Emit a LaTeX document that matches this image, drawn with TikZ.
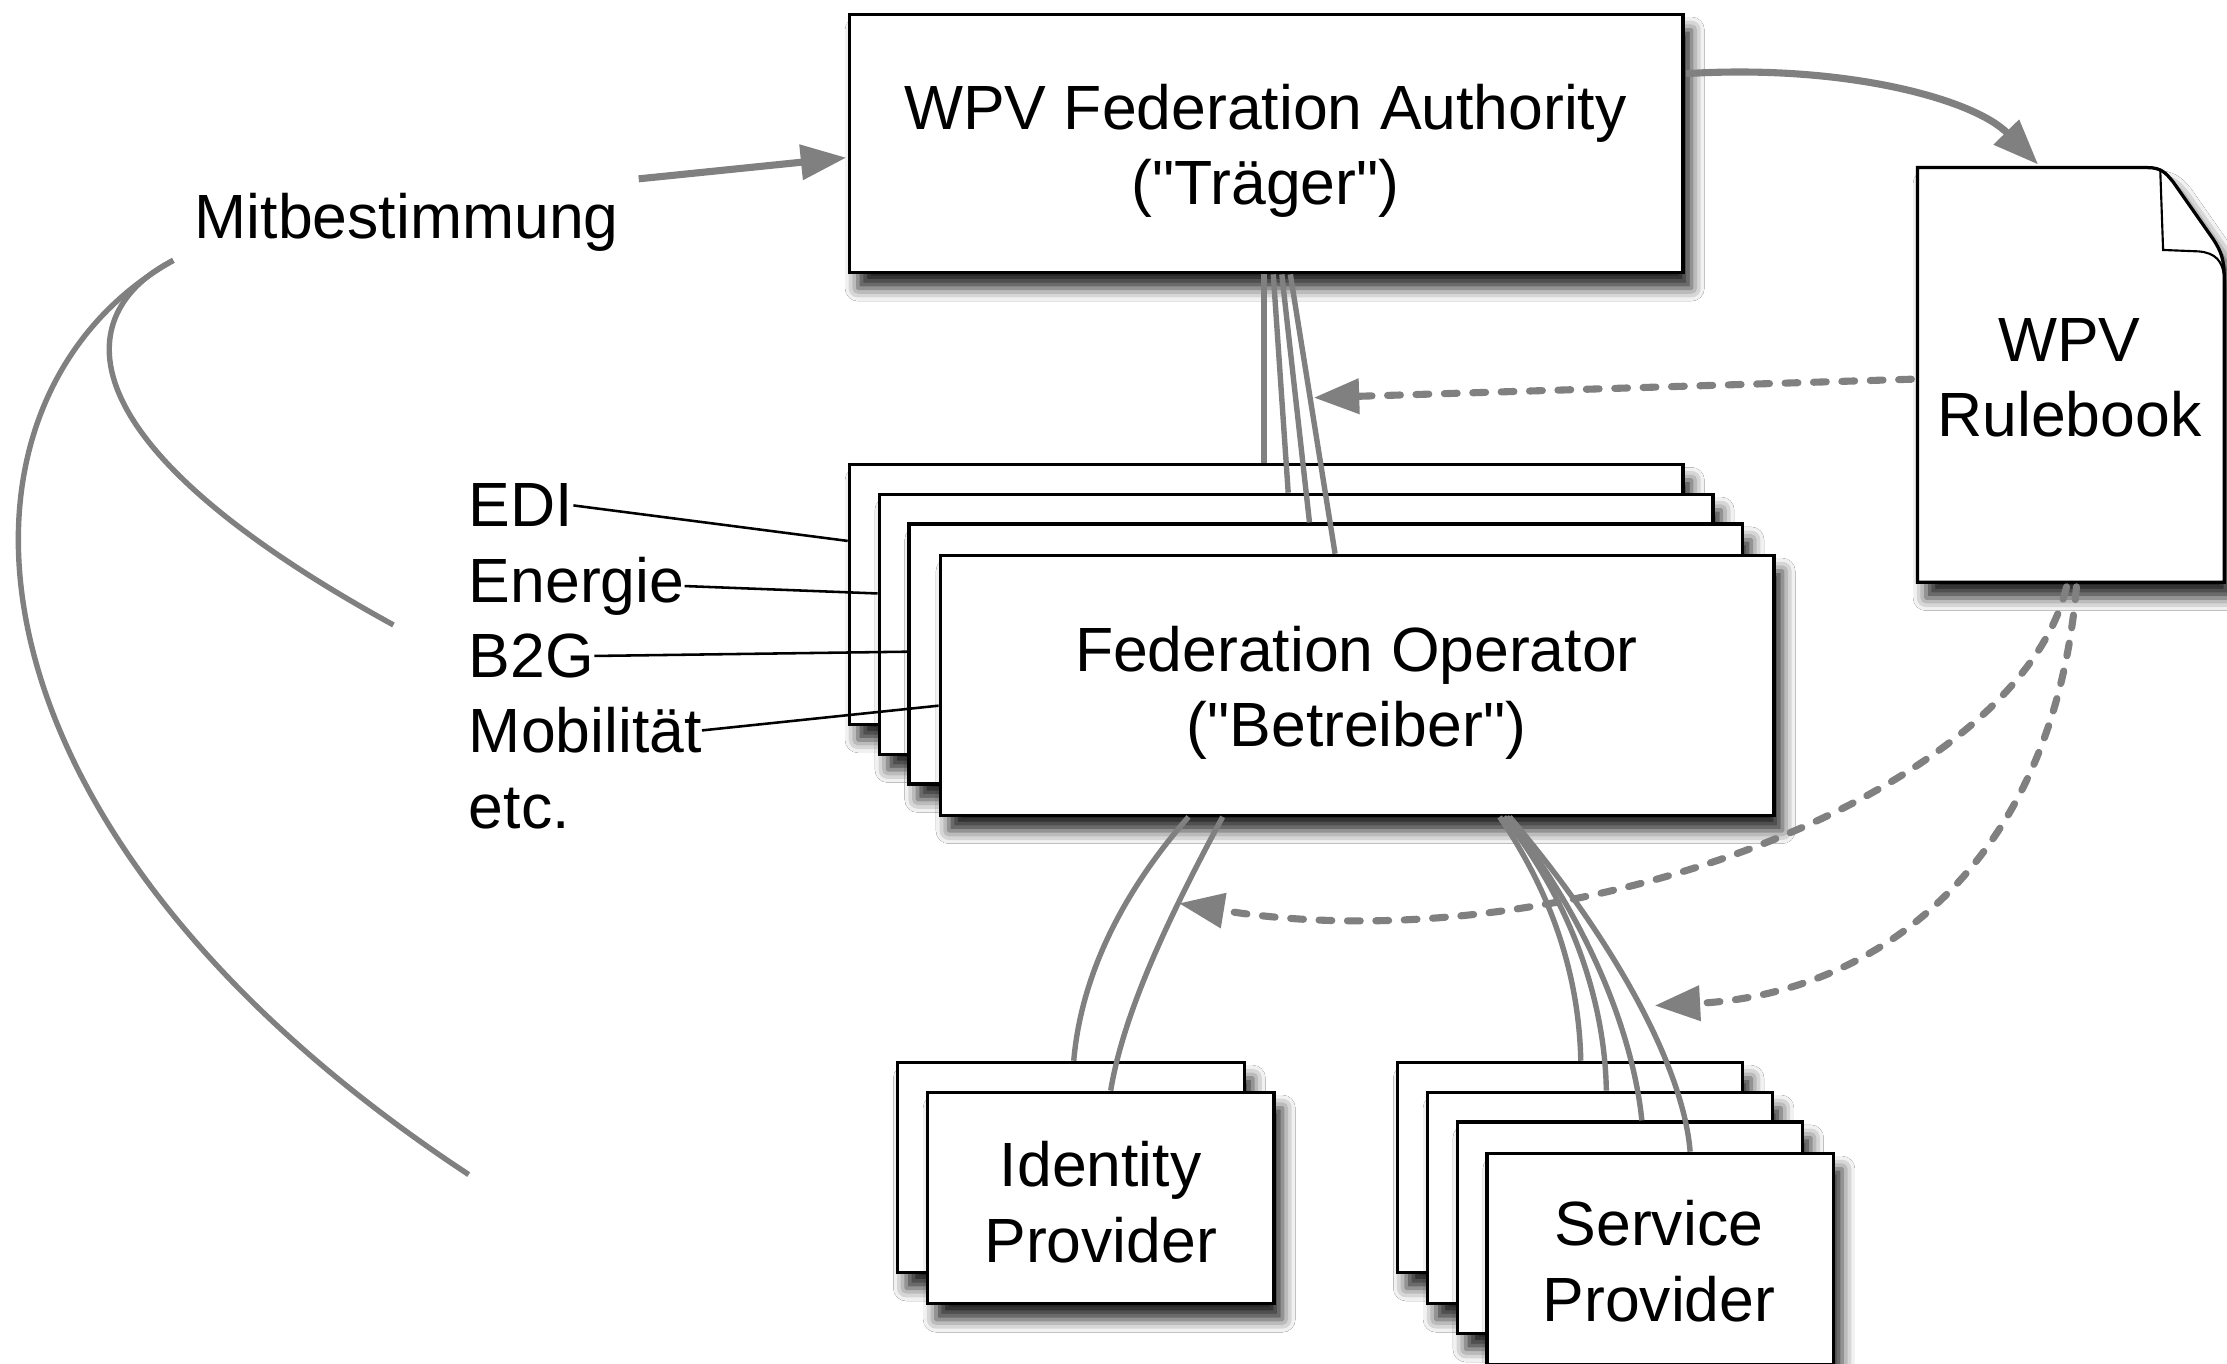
\documentclass[tikz,border=0pt]{standalone}
\usepackage{fontspec}
\setmainfont{Liberation Sans}[Ligatures=TeXOff]
\usetikzlibrary{arrows.meta,shadows.blur,calc}
\definecolor{connc}{gray}{0.5}
\begin{document}
\begin{tikzpicture}[x=1pt,y=-1pt,
  txt/.style={font=\fontsize{44}{53}\selectfont},
  shad/.style={blur shadow={shadow xshift=6pt, shadow yshift=-11pt, shadow blur radius=9pt, shadow opacity=85}},
  box/.style={draw=black, line width=2.3pt, fill=white, rectangle, inner sep=0pt, shad},
  btxt/.style={inner sep=0pt, align=center, txt},
  lbl/.style={inner sep=0pt, txt, anchor=base west},
  conn/.style={draw=connc, line width=3.8pt},
  thick conn/.style={draw=connc, line width=5pt},
  dconn/.style={draw=connc, line width=5pt, line cap=round, dash pattern=on 9pt off 11pt},
  tip/.style={-{Triangle[length=32pt,width=24pt]}},
  lead/.style={draw=black, line width=1.8pt}
]
\useasboundingbox (0,0) rectangle (1568,960);
\fill[white] (0,0) rectangle (1568,960);

% Authority
\node[box, minimum width=587pt, minimum height=182pt] (auth) at (891.5,101) {};
\node[btxt] (authT) at (891,106) {WPV Federation Authority\\("Träger")};

% Rulebook document
\path[draw=black, line width=2.3pt, fill=white, shad] (1350,118) -- (1512,118) .. controls (1522,118) and (1525,122) .. (1530,128) -- (1558,168) .. controls (1564,177) and (1566,183) .. (1566,195) -- (1566,410) -- (1350,410) -- cycle;
\draw[black, line width=1.5pt] (1521,120) -- (1523,176) -- (1548,177) .. controls (1560,178) and (1565,184) .. (1566,195);
\node[inner sep=0pt, minimum width=216pt, minimum height=292pt] (rule) at (1458,264) {};
\node[btxt] (ruleT) at (1457,266) {WPV\\Rulebook};

% Operator stack
\node[box, minimum width=587pt, minimum height=183pt] (op1) at (891.5,418.5) {};
\node[box, minimum width=587pt, minimum height=183pt] (op2) at (912.5,439.5) {};
\node[box, minimum width=587pt, minimum height=183pt] (op3) at (933.5,460.5) {};
\node[box, minimum width=587pt, minimum height=183pt] (op4) at (955.5,482.5) {};
\node[btxt] (opT) at (955,488) {Federation Operator\\("Betreiber")};

% Identity Provider stack
\node[box, minimum width=244pt, minimum height=148pt] (idp1) at (754,822) {};
\node[box, minimum width=244pt, minimum height=149pt] (idp2) at (775,843.5) {};
\node[btxt] (idpT) at (775,846.5) {Identity\\Provider};

% Service Provider stack
\node[box, minimum width=243pt, minimum height=148pt] (sp1) at (1105.5,822) {};
\node[box, minimum width=243pt, minimum height=149pt] (sp2) at (1126.5,843.5) {};
\node[box, minimum width=243pt, minimum height=149pt] (sp3) at (1147.5,864.5) {};
\node[box, minimum width=244pt, minimum height=149pt] (sp4) at (1169,886.5) {};
\node[btxt] (spT) at (1168,888) {Service\\Provider};

% Labels
\node[lbl] (mit) at (137,168) {Mitbestimmung};
\node[lbl] (edi) at (330,371) {EDI};
\node[lbl] (ene) at (330,424) {Energie};
\node[lbl] (b2g) at (330,477) {B2G};
\node[lbl] (mob) at (330,530) {Mobilität};
\node[lbl] (etc) at (330,583) {etc.};

% free ends
\coordinate (c1end) at (277,440);
\coordinate (c2end) at (330,827);
\coordinate (dashA) at (925,280);
\coordinate (dashB) at (830,636);
\coordinate (dashC) at (1165,708);

% Mitbestimmung arrow and curves
\draw[thick conn, tip] ($(mit.north east)+(14,-10)$) -- ($(auth.west)+(-1,10)$);
\draw[conn] ($(mit.south west)+(-15,6)$) .. controls (50,220) and (40,310) .. (c1end);
\draw[conn] ($(mit.south west)+(-15,6)$) .. controls (-50,280) and (-45,580) .. (c2end);

% Authority -> Rulebook
\draw[thick conn, tip] ($(auth.north east)+(1,43)$) .. controls (1300,45) and (1390,70) .. ($(rule.north)+(-23,-2)$);

% Authority -> Operators
\draw[conn] ($(auth.south)+(-1.5,0)$) -- ($(op1.north)+(-1.5,0)$);
\draw[conn] ($(auth.south)+(5,0)$) -- ($(op2.north)+(-5.5,0)$);
\draw[conn] ($(auth.south)+(11,0)$) -- ($(op3.north)+(-11.5,0)$);
\draw[conn] ($(auth.south)+(17,0)$) -- ($(op4.north)+(-15.5,0)$);

% Rulebook dashed
\draw[dconn, tip] ($(rule.west)+(-4,3)$) -- (dashA);
\draw[dconn, tip] ($(rule.south)+(-3,3)$) .. controls (1420,560) and (1100,680) .. (dashB);
\draw[dconn, tip] ($(rule.south)+(4,3)$) .. controls (1445,610) and (1320,700) .. (dashC);

% Operator -> IdP
\draw[conn] ($(op4.south west)+(176,0)$) .. controls (780,640) and (760,700) .. ($(idp1.north)+(2,0)$);
\draw[conn] ($(op4.south west)+(200,0)$) .. controls (815,660) and (790,720) .. ($(idp2.north)+(7,0)$);

% Operator -> SP
\draw[conn] ($(op4.south west)+(395,0)$) .. controls (1100,640) and (1112,700) .. ($(sp1.north)+(7.5,0)$);
\draw[conn] ($(op4.south west)+(398,0)$) .. controls (1110,640) and (1130,710) .. ($(sp2.north)+(4.5,0)$);
\draw[conn] ($(op4.south west)+(400,0)$) .. controls (1120,650) and (1150,730) .. ($(sp3.north)+(8.5,0)$);
\draw[conn] ($(op4.south west)+(402,0)$) .. controls (1135,660) and (1185,750) .. ($(sp4.north)+(21,0)$);

% Lead lines
\draw[lead] (edi.east) -- ($(op1.north west)+(0,55)$);
\draw[lead] (ene.east) -- ($(op2.north west)+(0,71)$);
\draw[lead] (b2g.east) -- ($(op3.north west)+(0,91)$);
\draw[lead] (mob.east) -- ($(op4.north west)+(0,107)$);
\end{tikzpicture}
\end{document}
